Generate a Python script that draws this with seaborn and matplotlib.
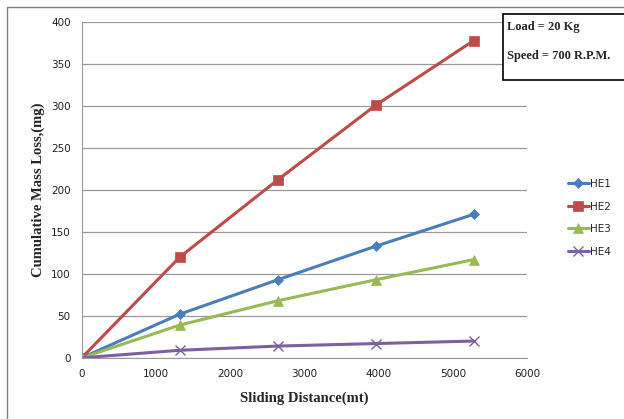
import pandas as pd
import seaborn as sns
import matplotlib.pyplot as plt
from matplotlib.patches import Rectangle

# sliding distance (mt) and cumulative mass loss (mg)
distance = [0, 1319, 2638, 3958, 5277]
he1 = [0, 52, 93, 133, 171]
he2 = [0, 120, 212, 301, 378]
he3 = [0, 39, 68, 93, 117]
he4 = [0, 9, 14, 17, 20]
series = ['HE1', 'HE2', 'HE3', 'HE4']
colors = ['#4A7EBB', '#BE4B48', '#98B954', '#7D60A0']
markers = ['D', 's', '^', 'x']

df = pd.concat([
    pd.DataFrame({'distance': distance, 'loss': vals, 'alloy': name})
    for name, vals in zip(series, [he1, he2, he3, he4])
])

sns.set_style('white')
fig = plt.figure(figsize=(6.24, 4.19), dpi=100)
ax = fig.add_axes([0.131, 0.146, 0.714, 0.801])

sizes = {'D': 5.5, 's': 6.5, '^': 6.5, 'x': 7}
for name, c, m in zip(series, colors, markers):
    sub = df[df['alloy'] == name]
    sns.lineplot(data=sub, x='distance', y='loss', ax=ax, color=c, marker=m,
                 markersize=sizes[m], markeredgecolor=c,
                 markeredgewidth=1 if m == 'x' else 0.5, linewidth=2.2, label=name)

ax.set_xlim(0, 6000)
ax.set_ylim(0, 400)
ax.set_xticks(range(0, 6001, 1000))
ax.set_yticks(range(0, 401, 50))
ax.yaxis.grid(True, color='#999999', linewidth=0.9)
ax.set_axisbelow(True)
for s in ['top', 'right']:
    ax.spines[s].set_visible(False)
ax.spines['left'].set_color('#999999')
ax.spines['bottom'].set_color('#999999')
ax.tick_params(axis='both', labelsize=7.5, colors='#222222', length=0, pad=8)

ax.set_xlabel('Sliding Distance(mt)', family='Liberation Serif', fontweight='bold',
              fontsize=10.5, labelpad=9)
ax.set_ylabel('Cumulative Mass Loss,(mg)', family='Liberation Serif', fontweight='bold', fontsize=10.5)

handles, labels = ax.get_legend_handles_labels()
ax.get_legend().remove()
fig.legend(handles, labels, loc='upper left', bbox_to_anchor=(0.895, 0.595),
           frameon=False, fontsize=7.5, handlelength=2.0, labelspacing=1.2,
           handletextpad=0.1)

# outer chart border
fig.patches.append(Rectangle((7 / 624, -0.05), 1.2, 1 - 7 / 419 + 0.05, transform=fig.transFigure,
                             fill=False, edgecolor='#7f7f7f', linewidth=1))

# condition box
fig.patches.append(Rectangle((503 / 624, 1 - 80 / 419), 0.3, 66 / 419, transform=fig.transFigure,
                             facecolor='white', edgecolor='black', linewidth=1.2, zorder=5))
fig.text(507 / 624, 1 - 27 / 419, 'Load = 20 Kg', family='Liberation Serif',
         fontweight='bold', fontsize=9, va='center', zorder=6)
fig.text(507 / 624, 1 - 56 / 419, 'Speed = 700 R.P.M.', family='Liberation Serif',
         fontweight='bold', fontsize=9, va='center', zorder=6)

fig.savefig('out.png', dpi=100)
